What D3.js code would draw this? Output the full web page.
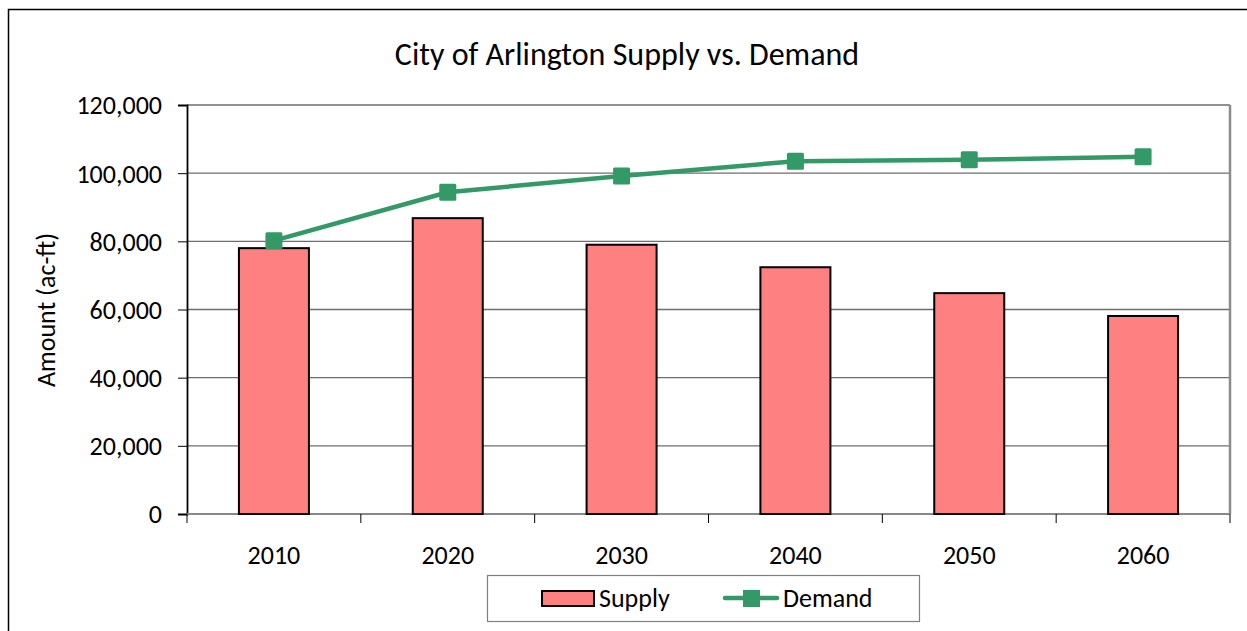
<!DOCTYPE html>
<html>
<head>
<meta charset="utf-8">
<script src="https://cdn.jsdelivr.net/npm/d3@7"></script>
<style>
  body { margin: 0; background: #fff; }
  svg text { font-family: Carlito, Calibri, Lato, "Open Sans", sans-serif; fill: #000; }
</style>
</head>
<body>
<svg id="chart" width="1247" height="631"></svg>
<script>
// data
const years = ["2010", "2020", "2030", "2040", "2050", "2060"];
const supply = [78000, 86800, 79000, 72400, 64800, 58100];
const demand = [80200, 94400, 99200, 103500, 103900, 104800];
const yTicks = [0, 20000, 40000, 60000, 80000, 100000, 120000];

const svg = d3.select("#chart");
const margin = { left: 187, right: 1230, top: 105, bottom: 514 };
const fs = 26;

// outer chart frame (right and bottom edges run off the picture)
svg.append("rect")
  .attr("x", 8.5).attr("y", 9.5)
  .attr("width", 1260).attr("height", 640)
  .attr("fill", "#fff")
  .attr("stroke", "#000")
  .attr("stroke-width", 1.5);

const x = d3.scaleBand().domain(years).range([margin.left, margin.right]);
const y = d3.scaleLinear().domain([0, 120000]).range([margin.bottom, margin.top]);

// grid
svg.append("g")
  .selectAll("line")
  .data(yTicks.slice(1))
  .enter()
  .append("line")
  .attr("x1", margin.left).attr("x2", margin.right)
  .attr("y1", d => y(d)).attr("y2", d => y(d))
  .attr("stroke", "#6e6e6e")
  .attr("stroke-width", 1.3);

// plot area right border
svg.append("line")
  .attr("x1", margin.right).attr("x2", margin.right)
  .attr("y1", margin.top).attr("y2", margin.bottom)
  .attr("stroke", "#8c8c8c").attr("stroke-width", 2.5);

// y axis
const yAxis = svg.append("g")
  .attr("transform", `translate(${margin.left},0)`)
  .call(d3.axisLeft(y).tickValues(yTicks).tickSize(9).tickPadding(16)
    .tickFormat(d3.format(",")));
yAxis.select(".domain").attr("stroke", "#000").attr("stroke-width", 1.8);
yAxis.selectAll(".tick line").attr("stroke", "#000").attr("stroke-width", 1);
yAxis.selectAll("text").attr("font-size", fs).attr("dy", "0.34em");

// x axis with ticks at category boundaries
const xAxis = svg.append("g")
  .attr("transform", `translate(0,${margin.bottom})`);
xAxis.append("line")
  .attr("x1", margin.left).attr("x2", margin.right)
  .attr("stroke", "#888").attr("stroke-width", 2);
const bounds = years.map(d => x(d)).concat([x.range()[1]]);
xAxis.selectAll("line.bt")
  .data(bounds)
  .enter()
  .append("line")
  .attr("class", "bt")
  .attr("x1", d => d).attr("x2", d => d)
  .attr("y1", 0).attr("y2", 9)
  .attr("stroke", "#000").attr("stroke-width", 1);
xAxis.selectAll("text")
  .data(years)
  .enter()
  .append("text")
  .attr("x", d => x(d) + x.bandwidth() / 2)
  .attr("y", 50)
  .attr("text-anchor", "middle")
  .attr("font-size", fs)
  .text(d => d);

// bars
const barW = 70;
svg.append("g")
  .selectAll("rect")
  .data(supply)
  .enter()
  .append("rect")
  .attr("x", (d, i) => x(years[i]) + x.bandwidth() / 2 - barW / 2)
  .attr("y", d => y(d))
  .attr("width", barW)
  .attr("height", d => y(0) - y(d))
  .attr("fill", "#ff8080")
  .attr("stroke", "#000")
  .attr("stroke-width", 2);

// demand line
const line = d3.line()
  .x((d, i) => x(years[i]) + x.bandwidth() / 2)
  .y(d => y(d));
svg.append("path")
  .datum(demand)
  .attr("d", line)
  .attr("fill", "none")
  .attr("stroke", "#339966")
  .attr("stroke-width", 4.5)
  .attr("stroke-linejoin", "round");
const mk = 17;
svg.append("g")
  .selectAll("rect")
  .data(demand)
  .enter()
  .append("rect")
  .attr("x", (d, i) => x(years[i]) + x.bandwidth() / 2 - mk / 2)
  .attr("y", d => y(d) - mk / 2)
  .attr("width", mk).attr("height", mk)
  .attr("rx", 1.5)
  .attr("fill", "#339966");

// title
svg.append("text")
  .attr("x", 627).attr("y", 65)
  .attr("text-anchor", "middle")
  .attr("font-size", 32)
  .text("City of Arlington Supply vs. Demand");

// y label
svg.append("text")
  .attr("transform", "translate(55,310) rotate(-90)")
  .attr("text-anchor", "middle")
  .attr("font-size", fs)
  .text("Amount (ac-ft)");

// legend
const lg = svg.append("g");
lg.append("rect")
  .attr("x", 487.5).attr("y", 575.5)
  .attr("width", 432).attr("height", 46)
  .attr("fill", "#fff").attr("stroke", "#808080").attr("stroke-width", 1.2);
lg.append("rect")
  .attr("x", 542).attr("y", 591)
  .attr("width", 52).attr("height", 15)
  .attr("fill", "#ff8080").attr("stroke", "#000").attr("stroke-width", 2);
lg.append("text")
  .attr("x", 599).attr("y", 607)
  .attr("font-size", fs)
  .text("Supply");
lg.append("line")
  .attr("x1", 725).attr("x2", 777)
  .attr("y1", 598).attr("y2", 598)
  .attr("stroke", "#339966").attr("stroke-width", 4.5)
  .attr("stroke-linecap", "round");
lg.append("rect")
  .attr("x", 743).attr("y", 590)
  .attr("width", 17).attr("height", 17)
  .attr("fill", "#339966");
lg.append("text")
  .attr("x", 783).attr("y", 607)
  .attr("font-size", fs)
  .text("Demand");
</script>
</body>
</html>
